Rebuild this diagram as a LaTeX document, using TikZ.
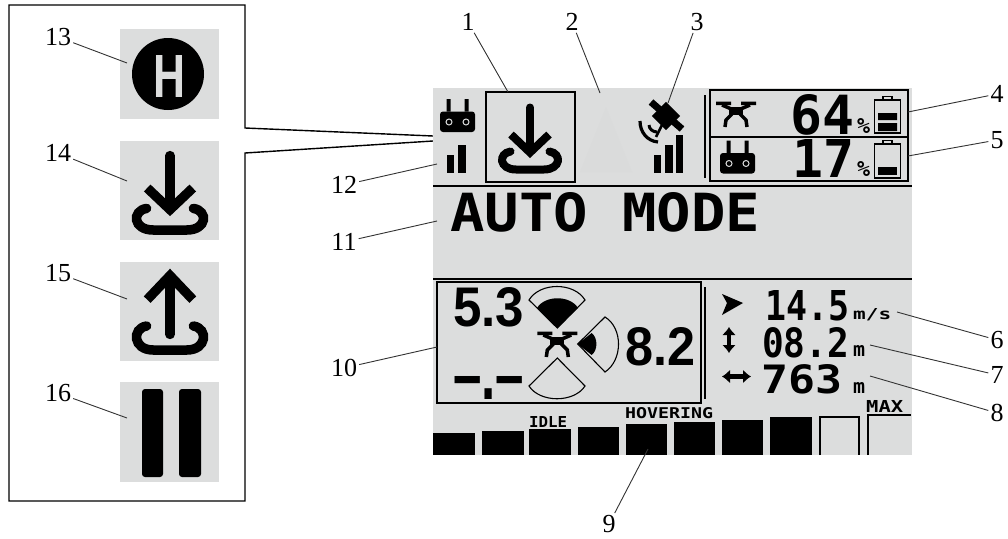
\documentclass[tikz,border=0pt]{standalone}
\usepackage{xcolor}
\usepackage{graphicx}
\usepackage{fontspec}
\usepackage{tikz}
\usetikzlibrary{positioning, arrows.meta}
\newfontfamily\lcdmono{DejaVu Sans Mono}
\newfontfamily\lcdsans{Liberation Sans}
\newfontfamily\calloutfont{Liberation Serif}
\definecolor{lcdgrey}{HTML}{DCDDDD}
\definecolor{lcdghost}{HTML}{DADBDB}
\definecolor{leadgrey}{HTML}{333333}
\newcommand{\lcdtxt}[3]{\resizebox{#1pt}{#2pt}{\lcdmono\bfseries #3}}
\newcommand{\lcdnum}[3]{\resizebox{#1pt}{#2pt}{\lcdsans\bfseries #3}}
\tikzset{
  callout/.style={font=\calloutfont\fontsize{26}{26}\selectfont, inner sep=2pt},
  leadline/.style={draw=leadgrey, line width=.9pt},
  lcdtext/.style={inner sep=0pt, anchor=base west},
  lcdline/.style={draw=black, line width=1.5pt},
  lcdpanel/.style={fill=lcdgrey},
  lcdarrow/.style={line width=4.5pt, {Latex[width=14pt,length=8pt]}-{Latex[width=14pt,length=8pt]}},
  landicon/.pic={
    \draw[line width=#1, line cap=round] (0,-52) -- (0,-12);
    \draw[line width=#1, miter limit=4] (-19,-25) -- (0,-7) -- (19,-25);
    \draw[line width=#1, line cap=round] (-19.5,-8) .. controls (-32,-6) and (-31,10) .. (-14,10)
      -- (14,10) .. controls (31,10) and (32,-6) .. (19.5,-8);
  },
  upicon/.pic={
    \draw[line width=#1, line cap=round] (0,-50) -- (0,-3);
    \draw[line width=#1, miter limit=4] (-19,-32) -- (0,-52) -- (19,-32);
    \draw[line width=#1, line cap=round] (-19.5,-10) .. controls (-32,-8) and (-31,10) .. (-14,10)
      -- (14,10) .. controls (31,10) and (32,-8) .. (19.5,-10);
  },
  remoteicon/.pic={
    \fill (-11,-16.5) rectangle (-7,-4) (7,-16.5) rectangle (11,-4);
    \fill[rounded corners=3pt] (-17.5,-4) rectangle (17.5,16.5);
    \draw[lcdgrey, line width=1pt] (-8.5,6.5) circle (3pt) (8.5,6.5) circle (3pt);
  },
  droneicon/.pic={
    \fill (-20,-12.5) rectangle (-5,-9) (5,-12.5) rectangle (20,-9);
    \draw[line width=3.5pt] (-14,-9) -- (0,-3) -- (14,-9);
    \fill (-7,-7) rectangle (7,1);
    \draw[line width=3.5pt] (-4,0) -- (-10,6) -- (-11,13) (4,0) -- (10,6) -- (11,13);
  },
  batteryicon/.pic={
    \draw[line width=1.2pt] (-4.5,4) -- (-4.5,0.5) -- (4.5,0.5) -- (4.5,4);
    \draw[line width=1.4pt] (-13,4) rectangle (13,#1);
  },
}
\begin{document}
\begin{tikzpicture}[x=1pt, y=-1pt, on grid]
    \useasboundingbox (0,0) rectangle (1008,538);

    % inset frame and its pointer
    \coordinate (ctip) at (480,138);
    \draw[line width=1.4pt, line join=miter] (245,128) -- (245,5) -- (9,5) -- (9,501) -- (245,501) -- (245,153) -- (ctip) -- cycle;

    % inset icons
    \fill[lcdpanel] (120,29) rectangle (219,119);
    \fill[lcdpanel] (120,141) rectangle (219,240);
    \fill[lcdpanel] (120,262) rectangle (219,361);
    \fill[lcdpanel] (120,382) rectangle (219,482);
    \fill (168,74) circle (36pt);
    \node[lcdtext, text=lcdgrey] (hlet) at (153,97) {\lcdnum{32}{42}{H}};
    \pic[scale=1.2] at (170,218) {landicon=9.5};
    \pic[scale=1.2] at (170,338) {upicon=9.5};
    \fill[rounded corners=3pt] (142,389) rectangle (163,477);
    \fill[rounded corners=3pt] (179,389) rectangle (201,477);

    % screen
    \fill[lcdpanel] (433,88) rectangle (912,455);
    \draw[lcdline] (486,92) rectangle (575,182);
    \draw[lcdline] (710,90) rectangle (908,181);
    \draw[lcdline] (710,137) -- (908,137);
    \draw[lcdline] (705,95) -- (705,178);
    \draw[lcdline] (433,186) -- (912,186);
    \draw[lcdline] (433,279) -- (912,279);
    \draw[lcdline] (437,282) rectangle (701,403);
    \draw[lcdline] (705,287) -- (705,399);

    % top row
    \pic at (457.5,115.5) {remoteicon};
    \fill (447,155) rectangle (454,173);
    \fill (458,145) rectangle (466,173);
    \pic at (530,159.5) {landicon=8};
    \fill[lcdghost] (606,107) -- (632,172) -- (580,172) -- cycle;
    \draw[line width=7pt] (651,102) -- (682,129);
    \fill[rotate around={45:(666,116)}] (656,106) rectangle (676,126);
    \draw[line width=3.2pt] (640,121) .. controls (640,132) and (647,141) .. (658,142);
    \draw[line width=3pt] (649,125) .. controls (649,129) and (653,132) .. (657,132);
    \draw[line width=2.5pt] (656,137) -- (663,123);
    \fill (654,155) rectangle (661,173);
    \fill (665,145) rectangle (673,173);
    \fill (676,135) rectangle (683,173);

    % battery readouts
    \pic at (736,114) {droneicon};
    \pic at (737.5,157) {remoteicon};
    \node[lcdtext] (rcharge) at (790,134) {\lcdtxt{64}{40}{64}};
    \node[lcdtext] (ccharge) at (792,177) {\lcdtxt{62}{38}{17}};
    \node[lcdtext] (rpct) at (857,133) {\lcdtxt{13}{15}{\%}};
    \node[lcdtext] (cpct) at (857,176) {\lcdtxt{13}{15}{\%}};
    \pic at (887.5,96) {batteryicon=37};
    \fill (878,113) rectangle (897,120) (878,123) rectangle (897,131);
    \pic at (887.5,140) {batteryicon=38};
    \fill (878,167) rectangle (897,175);

    \node[lcdtext] (modetxt) at (450,231) {\lcdtxt{310}{39}{AUTO MODE}};

    % distance sensors
    \node[lcdtext] (frontd) at (453,326) {\lcdnum{71}{39}{5.3}};
    \node[lcdtext] (sided) at (625,365) {\lcdnum{70}{38}{8.2}};
    \node[lcdtext] (downd) at (453,399) {\lcdnum{71}{23}{–.–}};
    \pic at (557.3,344) {droneicon};
    \draw[line width=1.1pt] (529,300) .. controls (540,282) and (574,282) .. (585,300) -- (557.3,328) -- cycle;
    \fill (537,308) .. controls (545,295) and (570,295) .. (578,308) -- (557.3,328) -- cycle;
    \draw[line width=1.1pt] (605,317) .. controls (623,328) and (623,360) .. (605,372) -- (577.7,344) -- cycle;
    \fill (591.7,333) .. controls (598,338) and (598,350) .. (591.7,355) -- (577.7,344) -- cycle;
    \draw[line width=1.1pt] (529,386) .. controls (540,403) and (574,403) .. (585,386) -- (557.3,358) -- cycle;

    % flight values
    \fill (722,294) -- (743,303) -- (722,315) -- (727,303) -- cycle;
    \draw[lcdarrow] (729,327) -- (729,353);
    \draw[lcdarrow] (722,376.5) -- (751,376.5);
    \node[lcdtext] (speed) at (765,320) {\lcdtxt{84}{30}{14.5}};
    \node[lcdtext] (height) at (762,357) {\lcdtxt{87}{30}{08.2}};
    \node[lcdtext] (range) at (761,393) {\lcdtxt{81}{29}{763}};
    \node[lcdtext] (speedu) at (853,319) {\lcdtxt{38}{11}{m/s}};
    \node[lcdtext] (heightu) at (853,356) {\lcdtxt{12}{11}{m}};
    \node[lcdtext] (rangeu) at (853,393) {\lcdtxt{12}{11}{m}};

    % throttle bars
    \fill (433,433) rectangle (475,455);
    \fill (482,431) rectangle (524,455);
    \fill (529,429) rectangle (571,455);
    \fill (578,427) rectangle (619,455);
    \fill (626,424) rectangle (667,455);
    \fill (674,422) rectangle (715,455);
    \fill (722,420) rectangle (763,455);
    \fill (770,417) rectangle (812,455);
    \draw[lcdline] (820,455) -- (820,417) -- (859,417) -- (859,455);
    \draw[lcdline] (868,455) -- (868,415) -- (911,415);
    \node[lcdtext] (idle) at (529,427) {\lcdtxt{38}{11}{IDLE}};
    \node[lcdtext] (hover) at (625,418) {\lcdtxt{88}{11}{HOVERING}};
    \node[lcdtext] (maxt) at (866,412) {\lcdtxt{37}{12}{MAX}};

    % callout numbers
    \node[callout] (n1) at (468,22) {1};
    \node[callout] (n2) [right=104pt of n1] {2};
    \node[callout] (n3) [right=125pt of n2] {3};
    \node[callout] (n4) at (997,94) {4};
    \node[callout] (n5) [below=46pt of n4] {5};
    \node[callout] (n6) at (997,340) {6};
    \node[callout] (n7) [below=35pt of n6] {7};
    \node[callout] (n8) [below=38pt of n7] {8};
    \node[callout] (n9) at (609,524) {9};
    \node[callout] (n12) at (344,185) {12};
    \node[callout] (n11) [below=57pt of n12] {11};
    \node[callout] (n10) [below=126pt of n11] {10};
    \node[callout] (n13) at (58,37) {13};
    \node[callout] (n14) [below=116pt of n13] {14};
    \node[callout] (n15) [below=120pt of n14] {15};
    \node[callout] (n16) [below=120pt of n15] {16};

    \coordinate (c1) at (508,92);
    \coordinate (c2) at (600,93);
    \coordinate (c3) at (668,103);
    \coordinate (c4) at (908,112);
    \coordinate (c5) at (908,156);
    \coordinate (c6) at (897,312);
    \coordinate (c7) at (870,345);
    \coordinate (c8) at (870,376);
    \coordinate (c9) at (648,449);
    \coordinate (c10) at (437,347);
    \coordinate (c11) at (437,221);
    \coordinate (c12) at (437,164);
    \coordinate (c13) at (127,63);
    \coordinate (c14) at (127,181);
    \coordinate (c15) at (127,299);
    \coordinate (c16) at (127,418);

    \path[leadline]
    (n1) edge (c1)
    (n2) edge (c2)
    (n3) edge (c3)
    (n4) edge (c4)
    (n5) edge (c5)
    (n6) edge (c6)
    (n7) edge (c7)
    (n8) edge (c8)
    (n9) edge (c9)
    (n10) edge (c10)
    (n11) edge (c11)
    (n12) edge (c12)
    (n13) edge (c13)
    (n14) edge (c14)
    (n15) edge (c15)
    (n16) edge (c16);
\end{tikzpicture}
\end{document}
